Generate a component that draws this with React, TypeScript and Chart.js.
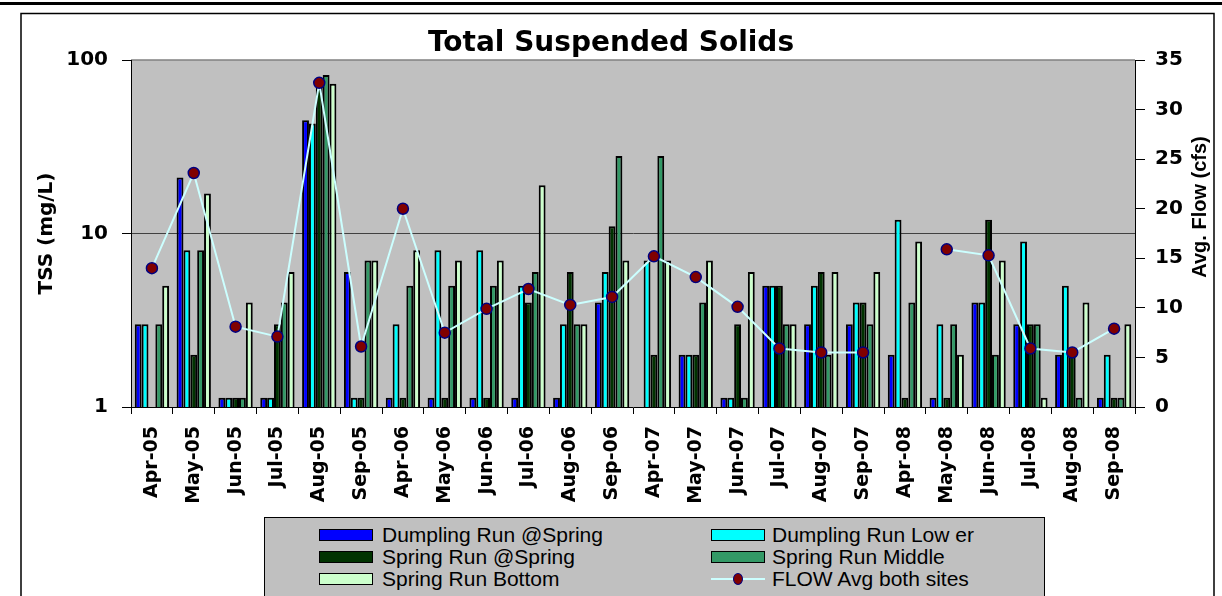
import React, { useEffect, useRef } from 'react';
import { Chart, registerables } from 'chart.js';

Chart.register(...registerables);

// ---------- data ----------
const months = [
  'Apr-05', 'May-05', 'Jun-05', 'Jul-05', 'Aug-05', 'Sep-05',
  'Apr-06', 'May-06', 'Jun-06', 'Jul-06', 'Aug-06', 'Sep-06',
  'Apr-07', 'May-07', 'Jun-07', 'Jul-07', 'Aug-07', 'Sep-07',
  'Apr-08', 'May-08', 'Jun-08', 'Jul-08', 'Aug-08', 'Sep-08',
];

const dumplingSpring = [3, 21, 1.13, 1.13, 45, 6, 1.13, 1.13, 1.13, 1.13, 1.13, 4, null, 2, 1.13, 5, 3, 3, 2, 1.13, 4, 3, 2, 1.13];
const dumplingLower = [3, 8, 1.13, 1.13, 43, 1.13, 3, 8, 8, 5, 3, 6, 7, 2, 1.13, 5, 5, 4, 12, 3, 4, 9, 5, 2];
const springSpring = [null, 2, 1.13, 3, 75, 1.13, 1.13, 1.13, 1.13, 4, 6, 11, 2, 2, 3, 5, 6, 4, 1.13, 1.13, 12, 3, 2, 1.13];
const springMiddle = [3, 8, 1.13, 4, 82, 7, 5, 5, 5, 6, 3, 28, 28, 4, 1.13, 3, 2, 3, 4, 3, 2, 3, 1.13, 1.13];
const springBottom = [5, 17, 4, 6, 73, 7, 8, 7, 7, 19, 3, 7, 7, 7, 6, 3, 6, 6, 9, 2, 7, 1.13, 4, 3];
const flowAvg = [14, 23.6, 8.1, 7.1, 32.7, 6.1, 20, 7.5, 9.9, 11.9, 10.3, 11.1, 15.2, 13.1, 10.1, 5.9, 5.5, 5.5, null, 15.9, 15.3, 5.9, 5.5, 7.9];

const seriesNames = [
  'Dumpling Run @Spring',
  'Dumpling Run Low er',
  'Spring Run @Spring',
  'Spring Run Middle',
  'Spring Run Bottom',
  'FLOW Avg both sites',
];

const tssTicks = [1, 10, 100];
const flowMin = 0;
const flowMax = 35;
const flowStep = 5;

const chartTitle = 'Total Suspended Solids';
const leftTitle = 'TSS (mg/L)';
const rightTitle = 'Avg. Flow (cfs)';

// ---------- styles ----------
const barColors = ['#0000FF', '#00FFFF', '#003300', '#339966', '#CCFFCC'];
const flowLineColor = '#CCFFFF';
const flowPointFill = '#800000';
const flowPointBorder = '#000080';
const plotBg = '#C0C0C0';
const BOLD = 'DejaVu Sans';

export default function App() {
  const canvasRef = useRef<HTMLCanvasElement | null>(null);

  useEffect(() => {
    const canvas = canvasRef.current;
    if (!canvas) return;

    const decor = {
      id: 'decor',
      beforeDraw(chart: any) {
        const { ctx, chartArea } = chart;
        ctx.save();
        ctx.fillStyle = '#FFFFFF';
        ctx.fillRect(0, 0, chart.width, chart.height);
        // thick line at very top
        ctx.fillStyle = '#000';
        ctx.fillRect(0, 2, chart.width, 3);
        // outer frame
        ctx.strokeStyle = '#000';
        ctx.lineWidth = 1.5;
        ctx.beginPath();
        ctx.moveTo(21, chart.height + 2);
        ctx.lineTo(21, 13.5);
        ctx.lineTo(1214, 13.5);
        ctx.lineTo(1214, chart.height + 2);
        ctx.stroke();
        // plot area
        ctx.fillStyle = plotBg;
        ctx.fillRect(chartArea.left, chartArea.top, chartArea.right - chartArea.left, chartArea.bottom - chartArea.top);
        ctx.strokeStyle = '#808080';
        ctx.lineWidth = 1.5;
        ctx.beginPath();
        ctx.moveTo(chartArea.left, chartArea.top);
        ctx.lineTo(chartArea.right, chartArea.top);
        ctx.stroke();
        ctx.restore();
      },
      afterDraw(chart: any) {
        const { ctx } = chart;
        ctx.save();
        ctx.translate(1200, 207);
        ctx.rotate(-Math.PI / 2);
        ctx.textAlign = 'center';
        ctx.textBaseline = 'middle';
        ctx.fillStyle = '#000';
        ctx.font = 'bold 20px "Liberation Sans", Arial, sans-serif';
        ctx.fillText(rightTitle, 0, 0);
        ctx.restore();
      },
    };

    const barSeries = [dumplingSpring, dumplingLower, springSpring, springMiddle, springBottom];

    const datasets: any[] = barSeries.map((d, i) => ({
      type: 'bar',
      label: seriesNames[i],
      data: d,
      backgroundColor: barColors[i],
      borderColor: '#000000',
      borderWidth: 2,
      categoryPercentage: 0.82,
      barPercentage: 1.0,
      yAxisID: 'y',
      order: 1,
    }));
    datasets.push({
      type: 'line',
      label: seriesNames[5],
      data: flowAvg,
      borderColor: flowLineColor,
      borderWidth: 2,
      pointRadius: 5.5,
      pointBackgroundColor: flowPointFill,
      pointBorderColor: flowPointBorder,
      pointBorderWidth: 1.5,
      spanGaps: false,
      tension: 0,
      yAxisID: 'y2',
      order: 0,
    });

    const chart = new Chart(canvas, {
      type: 'bar',
      data: { labels: months, datasets },
      options: {
        responsive: false,
        animation: false,
        devicePixelRatio: 1,
        layout: { padding: 0 },
        plugins: {
          legend: { display: false },
          tooltip: { enabled: false },
          title: {
            display: true,
            text: chartTitle,
            color: '#000',
            font: { family: BOLD, size: 28, weight: 'bold', lineHeight: 1 },
            padding: { top: 30, bottom: 2 },
          },
        },
        scales: {
          x: {
            offset: true,
            grid: {
              display: true,
              offset: true,
              drawOnChartArea: false,
              drawTicks: true,
              tickLength: 7,
              tickColor: '#000',
            },
            border: { display: true, color: '#000', width: 1 },
            ticks: {
              autoSkip: false,
              minRotation: 90,
              maxRotation: 90,
              padding: 12,
              color: '#000',
              font: { family: BOLD, size: 19, weight: 'bold' },
            },
            afterFit: (s: any) => { s.height = 189; },
          },
          y: {
            type: 'logarithmic',
            position: 'left',
            min: 1,
            max: 100,
            afterBuildTicks: (s: any) => { s.ticks = tssTicks.map((v) => ({ value: v })); },
            ticks: {
              callback: (v: any) => String(v),
              padding: 14,
              color: '#000',
              font: { family: BOLD, size: 20, weight: 'bold' },
            },
            grid: {
              color: (c: any) => (c.tick && c.tick.value === 10 ? '#404040' : 'rgba(0,0,0,0)'),
              tickColor: '#000',
              tickLength: 9,
              lineWidth: 1,
            },
            border: { display: true, color: '#000', width: 1 },
            title: {
              display: true,
              text: leftTitle,
              color: '#000',
              font: { family: BOLD, size: 20, weight: 'bold' },
              padding: { top: 35, bottom: 0 },
            },
            afterFit: (s: any) => { s.width = 131; },
          },
          y2: {
            type: 'linear',
            position: 'right',
            min: flowMin,
            max: flowMax,
            ticks: {
              stepSize: flowStep,
              padding: 10,
              color: '#000',
              font: { family: BOLD, size: 20, weight: 'bold' },
            },
            grid: { drawOnChartArea: false, tickLength: 10, tickColor: '#000' },
            border: { display: true, color: '#000', width: 1 },
            afterFit: (s: any) => { s.width = 87; },
          },
        },
      } as any,
      plugins: [decor],
    });

    return () => chart.destroy();
  }, []);

  const legendRows = [
    { col: 0, row: 0, idx: 0 },
    { col: 1, row: 0, idx: 1 },
    { col: 0, row: 1, idx: 2 },
    { col: 1, row: 1, idx: 3 },
    { col: 0, row: 2, idx: 4 },
    { col: 1, row: 2, idx: 5 },
  ];
  const colSwatchX = [54, 446];
  const colTextX = [117, 507];
  const rowY = [17, 39, 61];

  return (
    <div style={{ position: 'fixed', left: 0, top: 0, width: 1222, height: 596, overflow: 'hidden', background: '#fff' }}>
      <canvas ref={canvasRef} width={1222} height={596} style={{ display: 'block' }} />
      <div
        style={{
          position: 'absolute', left: 264, top: 517, width: 781, height: 80,
          background: plotBg, borderLeft: '1.5px solid #000', borderTop: '1.5px solid #000', borderRight: '1.5px solid #000',
          boxSizing: 'border-box', fontFamily: '"Liberation Sans", Arial, sans-serif', fontSize: 21, color: '#000',
        }}
      >
        {legendRows.map(({ col, row, idx }) => (
          <React.Fragment key={idx}>
            {idx < 5 ? (
              <div style={{
                position: 'absolute', left: colSwatchX[col], top: rowY[row] - 6, width: 54, height: 12,
                background: barColors[idx], border: '1.5px solid #000', boxSizing: 'border-box',
              }} />
            ) : (
              <>
                <div style={{ position: 'absolute', left: colSwatchX[col], top: rowY[row] - 1, width: 54, height: 2, background: flowLineColor }} />
                <div style={{
                  position: 'absolute', left: colSwatchX[col] + 27 - 5, top: rowY[row] - 6, width: 10, height: 12,
                  borderRadius: '50%', background: flowPointFill, border: '1.5px solid ' + flowPointBorder, boxSizing: 'border-box',
                }} />
              </>
            )}
            <div style={{
              position: 'absolute', left: colTextX[col], top: rowY[row] - 13, height: 26, lineHeight: '26px', whiteSpace: 'nowrap',
            }}>{seriesNames[idx]}</div>
          </React.Fragment>
        ))}
      </div>
    </div>
  );
}
